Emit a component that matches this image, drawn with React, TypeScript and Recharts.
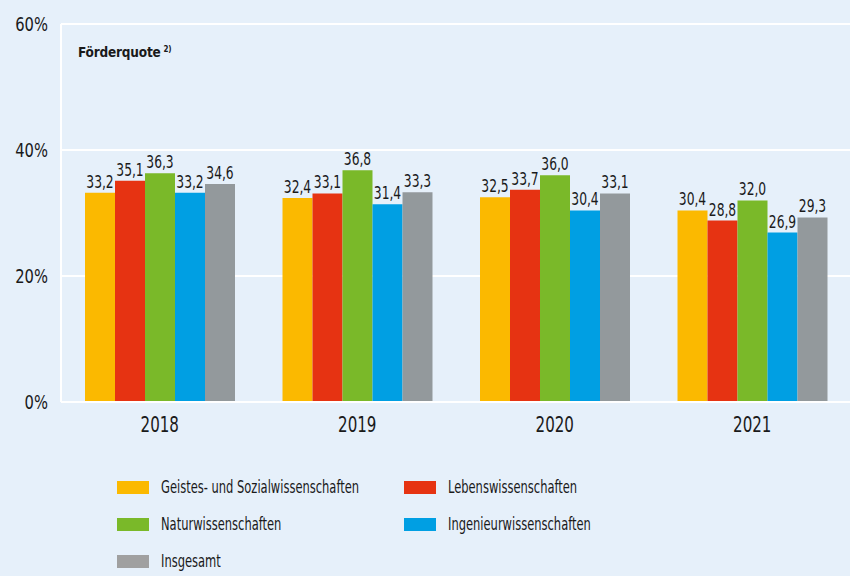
import React from 'react';
import { BarChart, Bar, XAxis, YAxis, CartesianGrid, LabelList } from 'recharts';

const years = ['2018', '2019', '2020', '2021'];
const geistes = [33.2, 32.4, 32.5, 30.4];
const leben = [35.1, 33.1, 33.7, 28.8];
const natur = [36.3, 36.8, 36.0, 32.0];
const ingenieur = [33.2, 31.4, 30.4, 26.9];
const insgesamt = [34.6, 33.3, 33.1, 29.3];
const yTicks = [0, 20, 40, 60];

const series = [
  { key: 'geistes', name: 'Geistes- und Sozialwissenschaften', color: '#fbb900', legend: '#fbb900' },
  { key: 'leben', name: 'Lebenswissenschaften', color: '#e63312', legend: '#e63312' },
  { key: 'natur', name: 'Naturwissenschaften', color: '#7ab929', legend: '#7ab929' },
  { key: 'ingenieur', name: 'Ingenieurwissenschaften', color: '#009fe3', legend: '#009fe3' },
  { key: 'insgesamt', name: 'Insgesamt', color: '#93999c', legend: '#a0a0a0' },
];

const data = years.map((year, i) => ({
  year,
  geistes: geistes[i],
  leben: leben[i],
  natur: natur[i],
  ingenieur: ingenieur[i],
  insgesamt: insgesamt[i],
}));

const FONT = "'DejaVu Sans Condensed', 'Open Sans', sans-serif";
const BG = '#e6f0fa';
const TEXT = '#1a1a1a';

const fmt = (v: any) => Number(v).toFixed(1).replace('.', ',');

const legendRows = [
  [series[0], series[1]],
  [series[2], series[3]],
  [series[4]],
];

// narrow text: the source uses a condensed face, so squeeze horizontally
const NarrowText = ({ x, y, size, scale, anchor, dy, children }: any) => (
  <text
    transform={`translate(${x},${y}) scale(${scale},1)`}
    textAnchor={anchor}
    dy={dy}
    fontSize={size}
    fontFamily={FONT}
    fill={TEXT}
  >
    {children}
  </text>
);

const XTick = ({ x, y, payload }: any) => (
  <NarrowText x={x} y={y} size={20.5} scale={0.82} anchor="middle" dy="0.71em">
    {payload.value}
  </NarrowText>
);

const YTick = ({ x, y, payload }: any) => (
  <NarrowText x={x} y={y} size={19.5} scale={0.84} anchor="end" dy="0.36em">
    {`${payload.value}%`}
  </NarrowText>
);

const BarLabel = ({ x, y, width, value }: any) => (
  <NarrowText x={Number(x) + Number(width) / 2} y={Number(y) - 5} size={18.5} scale={0.74} anchor="middle">
    {fmt(value)}
  </NarrowText>
);

export default function App() {
  return (
    <div style={{ position: 'absolute', left: 0, top: 0, width: 850, height: 576, background: BG, fontFamily: FONT, overflow: 'hidden' }}>
      <BarChart
        width={851}
        height={576}
        data={data}
        margin={{ top: 24, right: 0, left: 0, bottom: 144 }}
        barCategoryGap={24}
        barGap={0}
      >
        <CartesianGrid vertical={false} stroke="#ffffff" strokeWidth={2} />
        <XAxis
          dataKey="year"
          height={30}
          axisLine={{ stroke: '#ffffff', strokeWidth: 2 }}
          tickLine={false}
          tickSize={0}
          tickMargin={15}
          tick={<XTick />}
        />
        <YAxis
          width={61}
          domain={[0, 60]}
          ticks={yTicks}
          interval={0}
          axisLine={{ stroke: '#ffffff', strokeWidth: 2 }}
          tickLine={false}
          tickSize={0}
          tickMargin={13}
          tick={<YTick />}
        />
        {series.map((s) => (
          <Bar key={s.key} dataKey={s.key} name={s.name} fill={s.color} isAnimationActive={false}>
            <LabelList dataKey={s.key} content={<BarLabel />} />
          </Bar>
        ))}
      </BarChart>

      <div style={{ position: 'absolute', left: 78, top: 44, fontSize: 13.5, fontWeight: 'bold', color: TEXT, letterSpacing: -0.2 }}>
        Förderquote<span style={{ fontSize: 8, marginLeft: 3, position: 'relative', top: -5 }}>2)</span>
      </div>

      {legendRows.map((row, r) =>
        row.map((s, c) => (
          <div
            key={s.key}
            style={{
              position: 'absolute',
              left: c === 0 ? 117 : 404,
              top: 477 + r * 37,
              display: 'flex',
              alignItems: 'center',
              fontSize: 17.5,
              color: TEXT,
              whiteSpace: 'nowrap',
            }}
          >
            <span style={{ display: 'inline-block', width: 32, height: 13, background: s.legend, marginRight: 12 }} />
            <span style={{ display: 'inline-block', transform: 'scaleX(0.73)', transformOrigin: 'left center' }}>{s.name}</span>
          </div>
        ))
      )}
    </div>
  );
}
